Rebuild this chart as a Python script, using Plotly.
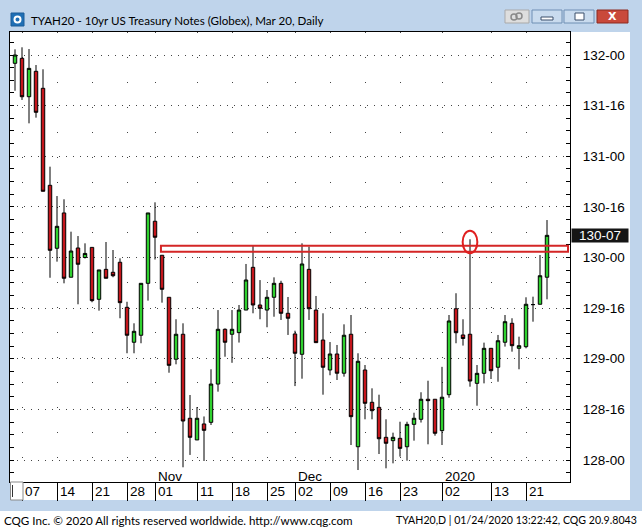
import plotly.graph_objects as go

# ---------------- data ----------------
dates = [
    "2019-10-04", "2019-10-07", "2019-10-08", "2019-10-09", "2019-10-10", "2019-10-11",
    "2019-10-14", "2019-10-15", "2019-10-16", "2019-10-17", "2019-10-18",
    "2019-10-21", "2019-10-22", "2019-10-23", "2019-10-24", "2019-10-25",
    "2019-10-28", "2019-10-29", "2019-10-30", "2019-10-31", "2019-11-01",
    "2019-11-04", "2019-11-05", "2019-11-06", "2019-11-07", "2019-11-08",
    "2019-11-11", "2019-11-12", "2019-11-13", "2019-11-14", "2019-11-15",
    "2019-11-18", "2019-11-19", "2019-11-20", "2019-11-21", "2019-11-22",
    "2019-11-25", "2019-11-26", "2019-11-27", "2019-11-29",
    "2019-12-02", "2019-12-03", "2019-12-04", "2019-12-05", "2019-12-06",
    "2019-12-09", "2019-12-10", "2019-12-11", "2019-12-12", "2019-12-13",
    "2019-12-16", "2019-12-17", "2019-12-18", "2019-12-19", "2019-12-20",
    "2019-12-23", "2019-12-24", "2019-12-26", "2019-12-27", "2019-12-30", "2019-12-31",
    "2020-01-02", "2020-01-03", "2020-01-06", "2020-01-07", "2020-01-08",
    "2020-01-09", "2020-01-10", "2020-01-13", "2020-01-14", "2020-01-15",
    "2020-01-16", "2020-01-17", "2020-01-21", "2020-01-22", "2020-01-23", "2020-01-24",
]

opens = [
    131.918, 131.967, 131.588, 131.839, 131.671, 130.713, 130.091, 130.440, 129.805, 130.094,
    130.000, 130.100, 129.587, 129.883, 129.854, 129.953, 129.508, 129.163, 129.232, 129.745,
    130.358, 130.022, 129.607, 128.995, 129.242, 128.412, 128.198, 128.356, 128.372, 128.750,
    129.291, 129.242, 129.258, 129.481, 129.903, 129.531, 129.481, 129.607, 129.745, 129.449,
    129.245, 129.044, 129.883, 129.481, 129.185, 128.889, 129.047, 128.857, 129.242, 128.131,
    128.889, 128.570, 128.520, 128.224, 128.191, 128.214, 128.131, 128.352, 128.402, 128.600,
    128.600, 128.290, 128.645, 129.494, 129.235, 129.242, 128.757, 128.856, 129.103, 128.916,
    129.163, 129.350, 129.103, 129.119, 129.535, 129.538, 129.805,
]
highs = [
    132.056, 132.076, 132.059, 131.901, 131.859, 130.897, 130.607, 130.575, 130.255, 130.212,
    130.140, 130.100, 129.877, 130.153, 130.074, 129.992, 129.563, 129.350, 129.745, 130.440,
    130.545, 130.022, 129.607, 129.390, 129.350, 128.642, 128.523, 128.430, 128.896, 129.481,
    129.300, 129.481, 129.531, 129.936, 130.114, 129.777, 129.679, 129.804, 129.770, 129.610,
    129.277, 130.140, 130.107, 129.620, 129.449, 129.165, 129.136, 129.340, 129.432, 129.054,
    128.938, 128.708, 128.645, 128.402, 128.270, 128.378, 128.378, 128.467, 128.669, 128.783,
    128.600, 128.920, 129.432, 129.647, 129.390, 130.180, 128.938, 129.159, 129.103, 129.235,
    129.432, 129.400, 129.218, 129.607, 129.613, 130.025, 130.370,
]
lows = [
    131.647, 131.556, 131.325, 131.381, 130.654, 129.800, 129.959, 129.745, 129.805, 129.538,
    129.990, 129.558, 129.475, 129.795, 129.805, 129.400, 129.054, 129.054, 129.153, 129.574,
    129.980, 129.554, 128.862, 128.945, 127.928, 128.050, 128.198, 127.990, 128.346, 128.675,
    129.020, 128.960, 129.160, 129.481, 129.449, 129.390, 129.311, 129.415, 129.383, 129.235,
    128.730, 128.803, 129.383, 129.159, 128.645, 128.837, 128.790, 128.823, 128.148, 127.901,
    128.402, 128.402, 128.059, 127.918, 127.967, 128.033, 127.993, 128.191, 128.370, 128.155,
    128.240, 128.148, 128.615, 129.153, 129.130, 128.724, 128.536, 128.757, 128.800, 128.773,
    129.120, 129.070, 128.896, 129.103, 129.366, 129.538, 129.587,
]
closes = [
    132.000, 131.588, 131.868, 131.434, 130.654, 130.071, 130.308, 129.795, 130.064, 129.933,
    130.040, 129.574, 129.877, 129.795, 129.820, 129.554, 129.232, 129.271, 129.745, 130.440,
    130.200, 129.686, 128.935, 129.242, 128.385, 128.224, 128.412, 128.293, 128.750, 129.291,
    129.163, 129.291, 129.481, 129.778, 129.531, 129.498, 129.607, 129.745, 129.449, 129.400,
    129.054, 129.936, 129.494, 129.159, 128.916, 129.047, 128.857, 129.232, 128.428, 128.975,
    128.560, 128.487, 128.210, 128.165, 128.224, 128.115, 128.352, 128.412, 128.600, 128.586,
    128.264, 128.620, 129.373, 129.257, 129.200, 128.780, 128.856, 129.103, 128.882, 129.178,
    129.366, 129.129, 129.129, 129.538, 129.535, 129.820, 130.219,
]

tick_dates = ["2019-10-07", "2019-10-14", "2019-10-21", "2019-10-28", "2019-11-01",
              "2019-11-11", "2019-11-18", "2019-11-25", "2019-12-02", "2019-12-09",
              "2019-12-16", "2019-12-23", "2020-01-02", "2020-01-13", "2020-01-21"]
tick_labels = ["07", "14", "21", "28", "01", "11", "18", "25", "02", "09", "16", "23", "02", "13", "21"]
month_dates = ["2019-11-01", "2019-12-02", "2020-01-02"]
month_labels = ["Nov", "Dec", "2020"]
price_ticks = [128.0, 128.5, 129.0, 129.5, 130.0, 130.5, 131.0, 131.5, 132.0]

# resistance zone and marked spike
zone_low, zone_high = 130.057, 130.115
zone_start, zone_end = "2019-11-01", "2020-01-24"
spike_date = "2020-01-08"
spike_low, spike_high = 130.042, 130.265

title_text = "TYAH20 - 10yr US Treasury Notes (Globex), Mar 20, Daily"
footer_left = "CQG Inc. © 2020 All rights reserved worldwide. http://www.cqg.com"
footer_right = "TYAH20,D | 01/24/2020 13:22:42, CQG 20.9.8043"


def fmt32(v):
    w = int(v)
    t = int(round((v - w) * 32))
    if t == 32:
        w, t = w + 1, 0
    return f"{w}-{t:02d}"


x_idx = list(range(len(dates)))
pos = {d: i for i, d in enumerate(dates)}

# ---------------- geometry helpers (window chrome) ----------------
W, H = 642, 528
L, R, T, B = 10, 570, 32, 482


def xp(px):
    return (px - L) / (R - L)


def yp(py):
    return (B - py) / (B - T)


fig = go.Figure()

fig.add_trace(go.Candlestick(
    x=x_idx, open=opens, high=highs, low=lows, close=closes,
    increasing=dict(fillcolor="#2fd12f", line=dict(color="black", width=1)),
    decreasing=dict(fillcolor="#c4161c", line=dict(color="black", width=1)),
    whiskerwidth=0, hoverinfo="skip", showlegend=False,
))
# carrier for left-side tick axis
fig.add_trace(go.Scatter(x=[x_idx[0]], y=[closes[0]], yaxis="y2", mode="markers",
                         marker=dict(opacity=0), hoverinfo="skip", showlegend=False))

font_axis = dict(family="Liberation Sans, Arial", size=13.5, color="black")
font_win = dict(family="Lato, Noto Sans", size=11.6, color="black")

shapes = []
annotations = []

# window chrome
shapes.append(dict(type="rect", xref="paper", yref="paper", x0=xp(630), x1=xp(570), y0=yp(500), y1=yp(32),
                   fillcolor="white", line=dict(width=0), layer="below"))
shapes.append(dict(type="rect", xref="paper", yref="paper", x0=xp(10), x1=xp(570), y0=yp(500), y1=yp(482),
                   fillcolor="white", line=dict(width=0), layer="below"))
shapes.append(dict(type="rect", xref="paper", yref="paper", x0=xp(0), x1=xp(642), y0=yp(528), y1=yp(511),
                   fillcolor="white", line=dict(width=0), layer="below"))
shapes.append(dict(type="rect", xref="paper", yref="paper", x0=xp(10.5), x1=xp(23), y0=yp(500), y1=yp(482),
                   fillcolor="white", line=dict(color="#8a8a8a", width=1)))
shapes.append(dict(type="line", xref="paper", yref="paper", x0=xp(12.5), x1=xp(12.5), y0=yp(497), y1=yp(485),
                   line=dict(color="#333", width=1)))
# icon
shapes.append(dict(type="rect", xref="paper", yref="paper", x0=xp(11), x1=xp(24), y0=yp(26), y1=yp(13),
                   fillcolor="#1f6fb5", line=dict(color="#1a5d99", width=1)))
shapes.append(dict(type="circle", xref="paper", yref="paper", x0=xp(14.5), x1=xp(20.5), y0=yp(22.5), y1=yp(16.5),
                   fillcolor="rgba(0,0,0,0)", line=dict(color="white", width=2)))
# buttons
shapes.append(dict(type="rect", xref="paper", yref="paper", x0=xp(505), x1=xp(529), y0=yp(23), y1=yp(10),
                   fillcolor="#dedede", line=dict(color="#a9a9a9", width=1)))
for bx0, bx1 in [(532, 562), (564, 594)]:
    shapes.append(dict(type="rect", xref="paper", yref="paper", x0=xp(bx0), x1=xp(bx1), y0=yp(23), y1=yp(10),
                       fillcolor="#c9dbee", line=dict(color="#6f8fb4", width=1)))
shapes.append(dict(type="rect", xref="paper", yref="paper", x0=xp(541), x1=xp(553), y0=yp(20), y1=yp(17),
                   fillcolor="white", line=dict(color="#3a4f6a", width=1)))
shapes.append(dict(type="rect", xref="paper", yref="paper", x0=xp(575), x1=xp(584), y0=yp(20), y1=yp(13),
                   fillcolor="white", line=dict(color="#3a4f6a", width=1)))
shapes.append(dict(type="rect", xref="paper", yref="paper", x0=xp(597), x1=xp(628), y0=yp(23), y1=yp(10),
                   fillcolor="#c9493b", line=dict(color="#8c2a20", width=1)))
shapes.append(dict(type="circle", xref="paper", yref="paper", x0=xp(511), x1=xp(517), y0=yp(20), y1=yp(14),
                   fillcolor="rgba(0,0,0,0)", line=dict(color="#8a8a8a", width=1.5)))
shapes.append(dict(type="circle", xref="paper", yref="paper", x0=xp(516), x1=xp(522), y0=yp(19), y1=yp(13),
                   fillcolor="rgba(0,0,0,0)", line=dict(color="#8a8a8a", width=1.5)))
annotations.append(dict(xref="paper", yref="paper", x=xp(612.5), y=yp(16.5), text="<b>X</b>", showarrow=False,
                        font=dict(family="DejaVu Sans", size=11, color="white"), xanchor="center", yanchor="middle"))

annotations.append(dict(xref="paper", yref="paper", x=xp(29), y=yp(20), text=title_text, showarrow=False,
                        font=font_win, xanchor="left", yanchor="middle"))
annotations.append(dict(xref="paper", yref="paper", x=xp(2), y=yp(520), text=footer_left, showarrow=False,
                        font=font_win, xanchor="left", yanchor="middle"))
annotations.append(dict(xref="paper", yref="paper", x=xp(639), y=yp(520), text=footer_right, showarrow=False,
                        font=dict(family="Lato, Noto Sans", size=10.6, color="black"),
                        xanchor="right", yanchor="middle"))

# day labels and month labels
for d, lab in zip(tick_dates, tick_labels):
    annotations.append(dict(xref="x", yref="paper", x=pos[d], y=yp(491.5), text=lab, showarrow=False,
                            font=font_axis, xanchor="left", yanchor="middle", xshift=1))
for d, lab in zip(month_dates, month_labels):
    annotations.append(dict(xref="x", yref="paper", x=pos[d], y=yp(476), text=lab, showarrow=False,
                            font=font_axis, xanchor="left", yanchor="middle", xshift=1))

# resistance zone and circle
shapes.append(dict(type="rect", xref="x", yref="y", x0=pos[zone_start] + 0.85, x1=pos[zone_end] + 3.0,
                   y0=zone_low, y1=zone_high, line=dict(color="#d42626", width=2), layer="above"))
shapes.append(dict(type="circle", xref="x", yref="y", x0=pos[spike_date] - 1.05, x1=pos[spike_date] + 1.05,
                   y0=spike_low, y1=spike_high, line=dict(color="#e01f1f", width=2), layer="above"))

# last price label
annotations.append(dict(xref="paper", yref="y", x=1, y=closes[-1], text=fmt32(closes[-1]), showarrow=False,
                        font=dict(family="Liberation Sans, Arial", size=13.5, color="white"),
                        bgcolor="#151515", xanchor="left", yanchor="middle", width=56, height=13,
                        align="center", xshift=1, borderpad=0))

ymin = 132 - (B - 55) / 101.25
ymax = 132 + (55 - T) / 101.25
xmin = (L - 15) / 7
xmax = (R - 15) / 7

fig.update_layout(
    width=W, height=H,
    margin=dict(l=L, r=W - R, t=T, b=H - B, pad=0),
    paper_bgcolor="#bfd4eb", plot_bgcolor="white",
    showlegend=False,
    shapes=shapes, annotations=annotations,
    xaxis=dict(
        range=[xmin, xmax], rangeslider=dict(visible=False), tickmode="array",
        tickvals=[pos[d] for d in tick_dates], showticklabels=False,
        ticks="outside", ticklen=18, tickcolor="black", tickwidth=1,
        showgrid=True, gridcolor="#444", griddash="1px,24px", gridwidth=1,
        showline=True, linecolor="black", linewidth=1, mirror=True, zeroline=False, fixedrange=True,
    ),
    yaxis=dict(
        range=[ymin, ymax], side="right", tickmode="array", tickvals=price_ticks,
        ticktext=[fmt32(v) for v in price_ticks], tickfont=font_axis,
        ticks="inside", ticklen=4, tickcolor="black", ticklabelstandoff=9,
        minor=dict(tickmode="linear", tick0=128, dtick=0.125, ticks="inside", ticklen=4, tickcolor="black",
                   showgrid=False),
        showgrid=True, gridcolor="#444", griddash="1px,6px", gridwidth=1,
        showline=True, linecolor="black", linewidth=1, mirror=True, zeroline=False, fixedrange=True,
    ),
    yaxis2=dict(
        range=[ymin, ymax], overlaying="y", side="left", anchor="x", tickmode="linear", tick0=128, dtick=0.125,
        ticks="inside", ticklen=4, tickcolor="black", showticklabels=False, showgrid=False,
        showline=False, zeroline=False, fixedrange=True,
    ),
)

fig.write_html("out.html", config={"displayModeBar": False},
               post_script="document.body.style.margin='0px';document.body.style.overflow='hidden';")
